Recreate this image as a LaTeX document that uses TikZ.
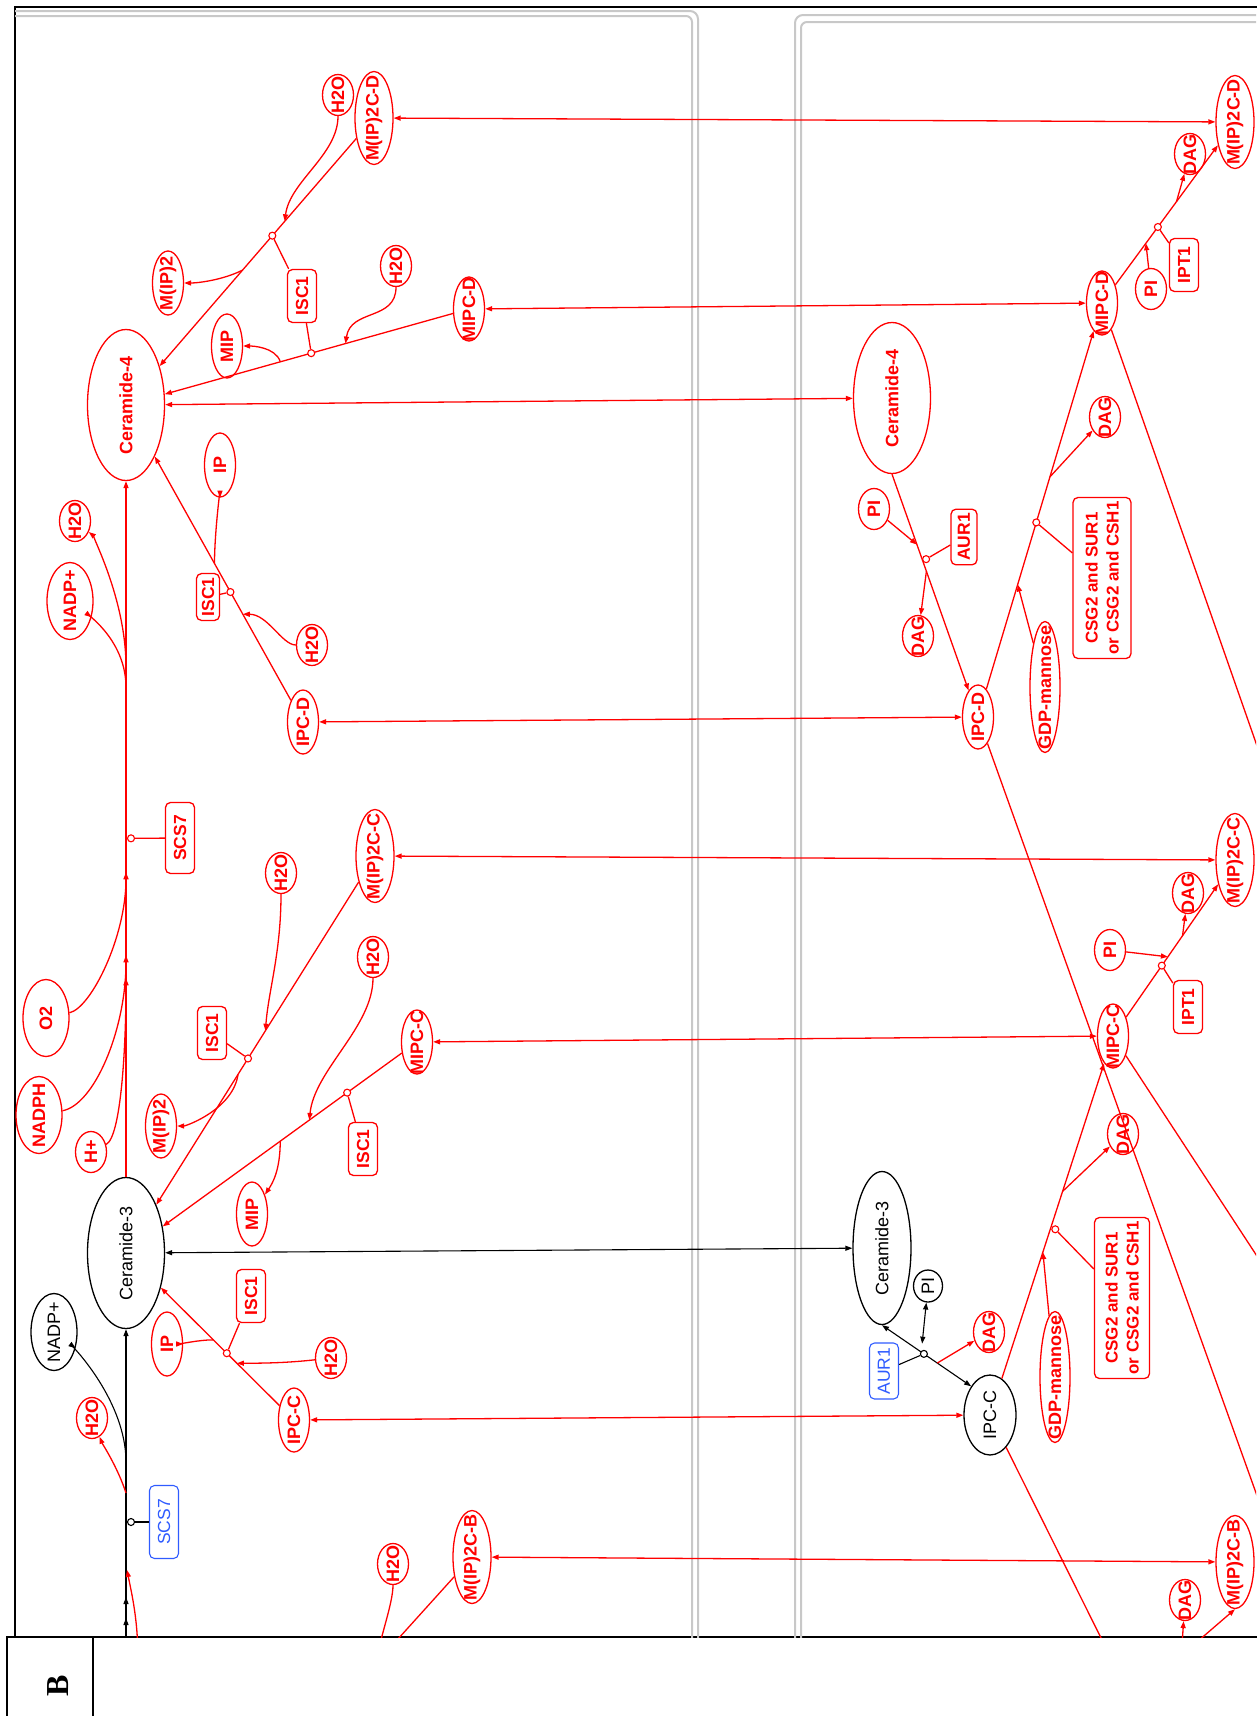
\documentclass[tikz,border=0pt]{standalone}
\usepackage{fontspec}
\setmainfont{Liberation Serif}
\setsansfont{Liberation Sans}
\usetikzlibrary{shapes.geometric, arrows.meta, calc}

\definecolor{rxnred}{HTML}{FF0000}
\definecolor{enzblue}{HTML}{2F5BFF}
\definecolor{panelgray}{HTML}{C8C8C8}

% zero-width label, so the ellipse keeps its own size
\newcommand{\zw}[1]{\makebox[0pt]{#1}}

\begin{document}
\begin{tikzpicture}[
    x=1pt, y=-1pt,
    >={Triangle[length=7pt, width=5pt]},
    met/.style={ellipse, draw, rotate=90, inner sep=0pt, line width=1.3pt,
        font=\sffamily\fontsize{18}{20}\selectfont},
    redmet/.style={met, rxnred, font=\sffamily\bfseries\fontsize{18}{20}\selectfont},
    blkmet/.style={met, black},
    metS/.style={minimum width=41pt, minimum height=31pt},
    metM/.style={minimum width=64pt, minimum height=31pt},
    metL/.style={minimum width=93pt, minimum height=38pt},
    metW/.style={minimum width=77pt, minimum height=46pt},
    metC/.style={minimum width=151pt, minimum height=77pt},
    metG/.style={minimum width=131pt, minimum height=30pt},
    enz/.style={draw, rounded corners=5pt, rotate=90, inner sep=4pt, line width=1.3pt,
        rxnred, font=\sffamily\bfseries\fontsize{17.5}{19}\selectfont,
        minimum width=53pt, minimum height=29pt},
    blueenz/.style={enz, enzblue, line width=1.1pt, font=\sffamily\fontsize{17.5}{19}\selectfont},
    csgbox/.style={enz, align=center, font=\sffamily\bfseries\fontsize{17}{21}\selectfont},
    rxn/.style={rxnred, line width=1.3pt},
    blk/.style={black, line width=1.1pt},
    modc/.style={circle, draw=rxnred, fill=white, inner sep=0pt, minimum size=7pt, line width=1.1pt},
    modk/.style={modc, draw=black},
    panel/.style={panelgray, line width=2pt, rounded corners=8pt}
]

% Dimensions
\def\yB{1637}

\path[use as bounding box] (0,0) rectangle (1256,1716);

% ============================================================
% Frame and label
% ============================================================
\draw[line width=1.6pt] (15,\yB) -- (15,7) -- (1270,7);
\draw[line width=1.6pt] (7,1730) -- (7,\yB) -- (1270,\yB);
\draw[line width=1.6pt] (93,\yB) -- (93,1730);
\node[rotate=90, font=\bfseries\fontsize{32}{32}\selectfont] (lblB) at (58,1686) {B};

\begin{scope}
\clip (15,7) rectangle (1256,\yB);

% Compartments
\draw[panel] (-10,11) rectangle (698,1700);
\draw[panel, rounded corners=6pt] (-10,16) rectangle (692,1700);
\draw[panel] (795,15) rectangle (1300,1700);
\draw[panel, rounded corners=6pt] (801,22) rectangle (1300,1700);

% ============================================================
% Left compartment
% ============================================================
\node[redmet, metS] (h2oA) at (338,95) {\zw{H2O}};
\node[redmet, metL] (m2cdL) at (374,118) {\zw{M(IP)2C-D}};
\node[redmet, metM] (mip2A) at (168,283) {\zw{M(IP)2}};
\node[enz] (isc1A) at (302,296) {ISC1};
\node[redmet, metS] (h2oB) at (396,266) {\zw{H2O}};
\node[redmet, metM] (mipA) at (227,346) {\zw{MIP}};
\node[redmet, metC] (cer4L) at (126,405) {\zw{Ceramide-4}};
\node[redmet, metM] (mipcdL) at (469,309) {\zw{MIPC-D}};
\node[redmet, metS] (h2oC) at (75,521) {\zw{H2O}};
\node[redmet, metW] (nadpA) at (70,601) {\zw{NADP+}};
\node[redmet, metM] (ipA) at (220,465) {\zw{IP}};
\node[enz, minimum width=46pt, minimum height=23pt] (isc1B) at (208,597) {ISC1};
\node[redmet, metS] (h2oD) at (312,645) {\zw{H2O}};
\node[redmet, metM] (ipcdL) at (303,722) {\zw{IPC-D}};
\node[enz, minimum width=71pt] (scs7A) at (180,838) {SCS7};
\node[redmet, metS] (h2oE) at (281,873) {\zw{H2O}};
\node[redmet, metL] (m2ccL) at (375,856) {\zw{M(IP)2C-C}};
\node[redmet, metW] (o2) at (46,1018) {\zw{O2}};
\node[enz] (isc1C) at (212,1033) {ISC1};
\node[redmet, metS] (h2oF) at (373,957) {\zw{H2O}};
\node[redmet, metM] (mipccL) at (417,1042) {\zw{MIPC-C}};
\node[redmet, metW] (nadph) at (39,1115) {\zw{NADPH}};
\node[redmet, metS] (hplus) at (91,1152) {\zw{H+}};
\node[redmet, metM] (mip2B) at (161,1126) {\zw{M(IP)2}};
\node[enz] (isc1D) at (363,1149) {ISC1};
\node[redmet, metM] (mipB) at (252,1214) {\zw{MIP}};
\node[blkmet, metC] (cer3L) at (126,1253) {\zw{Ceramide-3}};
\node[blkmet, metW] (nadpB) at (54,1332) {\zw{NADP+}};
\node[redmet, metM] (ipB) at (167,1344) {\zw{IP}};
\node[enz] (isc1E) at (251,1296) {ISC1};
\node[redmet, metS] (h2oG) at (331,1358) {\zw{H2O}};
\node[redmet, metM] (ipccL) at (294,1420) {\zw{IPC-C}};
\node[redmet, metS] (h2oH) at (92,1418) {\zw{H2O}};
\node[blueenz, minimum width=73pt] (scs7B) at (164,1522) {SCS7};
\node[redmet, metS] (h2oI) at (393,1564) {\zw{H2O}};
\node[redmet, metL] (m2cbL) at (472,1557) {\zw{M(IP)2C-B}};

% ============================================================
% Right compartment
% ============================================================
\node[redmet, metL] (m2cdR) at (1235,122) {\zw{M(IP)2C-D}};
\node[redmet, metS] (dagA) at (1190,154) {\zw{DAG}};
\node[enz] (ipt1A) at (1184,265) {IPT1};
\node[redmet, metS] (piA) at (1151,289) {\zw{PI}};
\node[redmet, metM] (mipcdR) at (1102,303) {\zw{MIPC-D}};
\node[redmet, metC] (cer4R) at (892,398) {\zw{Ceramide-4}};
\node[redmet, metS] (dagB) at (1105,417) {\zw{DAG}};
\node[redmet, metS] (piB) at (874,509) {\zw{PI}};
\node[enz, minimum width=54pt, minimum height=26pt] (aur1A) at (964,537) {AUR1};
\node[csgbox, minimum height=58pt] (csgA) at (1102,578) {CSG2 and SUR1\\or CSG2 and CSH1};
\node[redmet, metS] (dagC) at (918,636) {\zw{DAG}};
\node[redmet, metG] (gdpA) at (1045,687) {\zw{GDP-mannose}};
\node[redmet, metM] (ipcdR) at (978,717) {\zw{IPC-D}};
\node[redmet, metL] (m2ccR) at (1235,860) {\zw{M(IP)2C-C}};
\node[redmet, metS] (dagD) at (1188,893) {\zw{DAG}};
\node[redmet, metS] (piC) at (1110,950) {\zw{PI}};
\node[enz] (ipt1B) at (1188,1007) {IPT1};
\node[redmet, metM] (mipccR) at (1113,1036) {\zw{MIPC-C}};
\node[redmet, metS] (dagE) at (1123,1134) {\zw{DAG}};
\node[blkmet, minimum width=153pt, minimum height=58pt] (cer3R) at (882,1248) {\zw{Ceramide-3}};
\node[blkmet, minimum width=32pt, minimum height=29pt] (piD) at (928,1286) {\zw{PI}};
\node[csgbox, minimum height=55pt] (csgB) at (1122,1298) {CSG2 and SUR1\\or CSG2 and CSH1};
\node[redmet, metS] (dagF) at (989,1332) {\zw{DAG}};
\node[blueenz, minimum width=56pt] (aur1B) at (884,1371) {AUR1};
\node[redmet, metG] (gdpB) at (1055,1377) {\zw{GDP-mannose}};
\node[blkmet, minimum width=80pt, minimum height=52pt] (ipccR) at (990,1415) {\zw{IPC-C}};
\node[redmet, metL] (m2cbR) at (1235,1562) {\zw{M(IP)2C-B}};
\node[redmet, metS] (dagG) at (1185,1600) {\zw{DAG}};

% ============================================================
% Transport between compartments
% ============================================================
\foreach \a/\b in {m2cdL/m2cdR, mipcdL/mipcdR, cer4L/cer4R, ipcdL/ipcdR,
                   m2ccL/m2ccR, mipccL/mipccR, ipccL/ipccR, m2cbL/m2cbR} {
    \draw[rxn, <->] (\a) -- (\b);
}
\draw[blk, <->] (cer3L) -- (cer3R);

% ============================================================
% Left reactions
% ============================================================

% M(IP)2C-D -> Ceramide-4
\coordinate (r1h) at ($(m2cdL)!0.36!(cer4L)$);
\coordinate (r1m) at ($(m2cdL)!0.41!(cer4L)$);
\coordinate (r1p) at ($(m2cdL)!0.53!(cer4L)$);
\draw[rxn, ->] (m2cdL) -- (cer4L);
\draw[rxn, ->] (h2oA) .. controls +(0,60) and +(5,-40) .. (r1h);
\draw[rxn, ->] (r1p) .. controls +(-20,10) and +(30,0) .. (mip2A);
\node[modc] (c1) at (r1m) {};
\draw[rxn] (isc1A) -- (c1);

% MIPC-D -> Ceramide-4
\coordinate (r2h) at ($(mipcdL)!0.36!(cer4L)$);
\coordinate (r2m) at ($(mipcdL)!0.46!(cer4L)$);
\coordinate (r2p) at ($(mipcdL)!0.55!(cer4L)$);
\draw[rxn, ->] (mipcdL) -- (cer4L);
\draw[rxn, ->] (h2oB) .. controls +(0,55) and +(5,-35) .. (r2h);
\draw[rxn, ->] (r2p) .. controls +(-5,-15) and +(25,0) .. (mipA);
\node[modc] (c2) at (r2m) {};
\draw[rxn] (isc1A) -- (c2);

% IPC-D -> Ceramide-4
\coordinate (r3h) at ($(ipcdL)!0.34!(cer4L)$);
\coordinate (r3m) at ($(ipcdL)!0.41!(cer4L)$);
\coordinate (r3p) at ($(ipcdL)!0.50!(cer4L)$);
\draw[rxn, ->] (ipcdL) -- (cer4L);
\draw[rxn, ->] (h2oD) .. controls +(-30,0) and +(25,0) .. (r3h);
\draw[rxn, ->] (r3p) .. controls +(0,-30) and +(0,25) .. (ipA);
\node[modc] (c3) at (r3m) {};
\draw[rxn] (isc1B) -- (c3);

% Ceramide-3 -> Ceramide-4 (SCS7)
\coordinate (sa1) at ($(cer3L)!0.449!(cer4L)$);
\coordinate (sa2) at ($(cer3L)!0.351!(cer4L)$);
\coordinate (sa3) at ($(cer3L)!0.324!(cer4L)$);
\coordinate (sm) at ($(cer3L)!0.489!(cer4L)+(5,0)$);
\coordinate (sp1) at ($(cer3L)!0.667!(cer4L)$);
\coordinate (sp2) at ($(cer3L)!0.691!(cer4L)$);
\draw[rxn, ->] (cer3L) -- (cer4L);
\draw[rxn, ->] (o2) .. controls +(45,-10) and +(0,65) .. (sa1);
\draw[rxn, ->] (nadph) .. controls +(55,-10) and +(0,75) .. (sa2);
\draw[rxn, ->] (hplus) .. controls +(30,-15) and +(0,70) .. (sa3);
\draw[rxn, ->] (sp1) .. controls +(0,-45) and +(20,15) .. (nadpA);
\draw[rxn, ->] (sp2) .. controls +(0,-70) and +(15,12) .. (h2oC);
\node[modc] (cs) at (sm) {};
\draw[rxn] (scs7A) -- (cs);

% M(IP)2C-C -> Ceramide-3
\coordinate (r4h) at ($(m2ccL)!0.44!(cer3L)$);
\coordinate (r4m) at ($(m2ccL)!0.51!(cer3L)$);
\coordinate (r4p) at ($(m2ccL)!0.55!(cer3L)$);
\draw[rxn, ->] (m2ccL) -- (cer3L);
\draw[rxn, ->] (h2oE) .. controls +(0,80) and +(3,-40) .. (r4h);
\draw[rxn, ->] (r4p) .. controls +(-5,35) and +(25,0) .. (mip2B);
\node[modc] (c4) at (r4m) {};
\draw[rxn] (isc1C) -- (c4);

% MIPC-C -> Ceramide-3
\coordinate (r5h) at ($(mipccL)!0.37!(cer3L)$);
\coordinate (r5m) at ($(mipccL)!0.24!(cer3L)$);
\coordinate (r5p) at ($(mipccL)!0.47!(cer3L)$);
\draw[rxn, ->] (mipccL) -- (cer3L);
\draw[rxn, ->] (h2oF) .. controls +(0,70) and +(5,-50) .. (r5h);
\draw[rxn, ->] (r5p) .. controls +(0,30) and +(20,-30) .. (mipB);
\node[modc] (c5) at (r5m) {};
\draw[rxn] (isc1D) -- (c5);

% IPC-C -> Ceramide-3
\coordinate (r6h) at ($(ipccL)!0.34!(cer3L)$);
\coordinate (r6m) at ($(ipccL)!0.40!(cer3L)$);
\coordinate (r6p) at ($(ipccL)!0.48!(cer3L)$);
\draw[rxn, ->] (ipccL) -- (cer3L);
\draw[rxn, ->] (h2oG) .. controls +(-45,5) and +(25,0) .. (r6h);
\draw[rxn, ->] (r6p) .. controls +(-15,0) and +(15,0) .. (ipB);
\node[modc] (c6) at (r6m) {};
\draw[rxn] (isc1E) -- (c6);

% SCS7 step from below
\coordinate (inA) at (126,1660);
\coordinate (inB) at (126,1700);
\coordinate (ba1) at (126,1597);
\coordinate (ba2) at (126,1618);
\coordinate (inR) at (138,1660);
\coordinate (ba3) at (127,1570);
\coordinate (bm) at (131,1522);
\coordinate (bp1) at (126,1493);
\coordinate (bp2) at (126,1462);
\draw[blk, ->] (inA) -- (cer3L);
\draw[blk, ->] (inB) -- (ba1);
\draw[blk, ->] (inB) -- (ba2);
\draw[rxn, ->] (inR) .. controls +(0,-40) and +(5,25) .. (ba3);
\draw[rxn, ->] (bp1) .. controls +(-8,-25) and +(10,25) .. (h2oH);
\draw[blk, ->] (bp2) .. controls +(0,-60) and +(20,15) .. (nadpB);
\node[modk] (c7) at (bm) {};
\draw[blk] (scs7B) -- (c7);

% leaving the frame
\coordinate (outA) at (377,1660);
\coordinate (outB) at (379,1660);
\draw[rxn] (h2oI) .. controls +(0,40) and +(2,-20) .. (outA);
\draw[rxn] (m2cbL) -- (outB);

% ============================================================
% Right reactions
% ============================================================

% MIPC-D -> M(IP)2C-D (IPT1)
\coordinate (r7s) at ($(mipcdR)!0.33!(m2cdR)$);
\coordinate (r7m) at ($(mipcdR)!0.42!(m2cdR)$);
\coordinate (r7p) at ($(mipcdR)!0.56!(m2cdR)$);
\draw[rxn, ->] (mipcdR) -- (m2cdR);
\draw[rxn, ->] (piA) -- (r7s);
\draw[rxn, ->] (r7p) -- (dagA);
\node[modc] (c8) at (r7m) {};
\draw[rxn] (ipt1A) -- (c8);

% Ceramide-4 -> IPC-D (AUR1)
\coordinate (r8s) at ($(cer4R.west)!0.29!(ipcdR)$);
\coordinate (r8m) at ($(cer4R.west)!0.35!(ipcdR)+(4,0)$);
\coordinate (r8p) at ($(cer4R.west)!0.40!(ipcdR)$);
\draw[rxn, ->] (cer4R.west) -- (ipcdR);
\draw[rxn, ->] (piB) -- (r8s);
\draw[rxn, ->] (r8p) -- (dagC);
\node[modc] (c9) at (r8m) {};
\draw[rxn] (aur1A) -- (c9);

% IPC-D -> MIPC-D (CSG2)
\coordinate (r9s) at ($(ipcdR)!0.32!(mipcdR)$);
\coordinate (r9m) at ($(ipcdR)!0.47!(mipcdR)$);
\coordinate (r9p) at ($(ipcdR)!0.58!(mipcdR)$);
\draw[rxn, ->] (ipcdR) -- (mipcdR);
\draw[rxn, ->] (gdpA) -- (r9s);
\draw[rxn, ->] (r9p) -- (dagB);
\node[modc] (c10) at (r9m) {};
\draw[rxn] (csgA) -- (c10);

% MIPC-C -> M(IP)2C-C (IPT1)
\coordinate (r10s) at ($(mipccR)!0.45!(m2ccR)$);
\coordinate (r10m) at ($(mipccR)!0.40!(m2ccR)$);
\coordinate (r10p) at ($(mipccR)!0.57!(m2ccR)$);
\draw[rxn, ->] (mipccR) -- (m2ccR);
\draw[rxn, ->] (piC) -- (r10s);
\draw[rxn, ->] (r10p) -- (dagD);
\node[modc] (c11) at (r10m) {};
\draw[rxn] (ipt1B) -- (c11);

% IPC-C -> MIPC-C (CSG2)
\coordinate (r11s) at ($(ipccR)!0.43!(mipccR)$);
\coordinate (r11m) at ($(ipccR)!0.49!(mipccR)+(5,0)$);
\coordinate (r11p) at ($(ipccR)!0.59!(mipccR)$);
\draw[rxn, ->] (ipccR) -- (mipccR);
\draw[rxn, ->] (gdpB) -- (r11s);
\draw[rxn, ->] (r11p) -- (dagE);
\node[modc] (c12) at (r11m) {};
\draw[rxn] (csgB) -- (c12);

% Ceramide-3 <-> IPC-C (AUR1)
\coordinate (r12q) at ($(cer3R.west)!0.45!(ipccR.north east)+(0,-9)$);
\coordinate (r12m) at ($(cer3R.west)!0.47!(ipccR.north east)$);
\coordinate (r12p) at ($(cer3R.west)!0.62!(ipccR.north east)$);
\draw[blk, <->] (cer3R.west) -- (ipccR.north east);
\draw[blk, <->] (r12q) -- (piD);
\draw[rxn, ->] (r12p) -- (dagF);
\node[modk] (c13) at (r12m) {};
\draw[blk] (aur1B) -- (c13);

% leaving / entering the frame
\coordinate (exA) at (1270,783);
\coordinate (exB) at (1270,1532);
\coordinate (exC) at (1270,1276);
\coordinate (exD) at (1112,1660);
\coordinate (inC) at (1181,1660);
\coordinate (inD) at (1176,1660);
\draw[rxn] (mipcdR) -- (exA);
\draw[rxn] (ipcdR) -- (exB);
\draw[rxn] (mipccR) -- (exC);
\draw[rxn] (ipccR) -- (exD);
\draw[rxn, ->] (inC) -- (dagG);
\draw[rxn, ->] (inD) -- (m2cbR.west);

\end{scope}
\end{tikzpicture}
\end{document}
